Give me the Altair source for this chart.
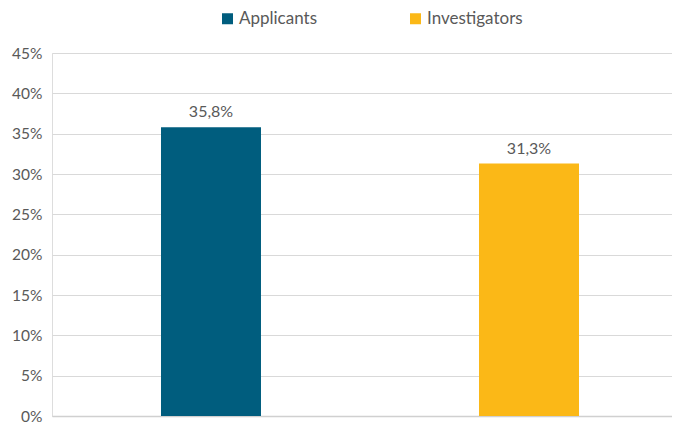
import altair as alt
import pandas as pd

categories = ["Applicants", "Investigators"]
values = [35.8, 31.3]
labels = ["35,8%", "31,3%"]
colors = ["#005D7E", "#FBB817"]
y_ticks = [0, 5, 10, 15, 20, 25, 30, 35, 40, 45]

df = pd.DataFrame({"group": categories, "value": values, "label": labels})

FONT = "Lato"
TXT = "#595959"

x_enc = alt.X(
    "group:N",
    sort=categories,
    title=None,
    scale=alt.Scale(paddingInner=0.2, paddingOuter=0.07484, align=0.668, round=False),
    axis=alt.Axis(labels=False, ticks=False, domain=True, domainColor="#d0d0d0", domainWidth=1.5, grid=False),
)
y_enc = alt.Y(
    "value:Q",
    title=None,
    scale=alt.Scale(domain=[0, 45], nice=False),
    axis=alt.Axis(
        values=y_ticks,
        labelExpr="datum.value + '%'",
        ticks=False,
        domain=False,
        grid=True,
        gridColor="#d9d9d9",
        gridWidth=1,
        labelPadding=10,
        labelColor=TXT,
        labelFont=FONT,
        labelFontSize=15.5,
    ),
)

bars = alt.Chart(df).mark_bar(size=100).encode(
    x=x_enc,
    y=y_enc,
    color=alt.Color(
        "group:N",
        sort=categories,
        scale=alt.Scale(domain=categories, range=colors),
        legend=alt.Legend(
            title=None,
            orient="none",
            legendX=167,
            legendY=-43,
            padding=0,
            direction="horizontal",
            symbolType="square",
            symbolSize=121,
            symbolStrokeWidth=0,
            labelFont=FONT,
            labelFontSize=17,
            labelColor=TXT,
            labelOffset=3,
            columnPadding=89,
        ),
    ),
)

text = alt.Chart(df).mark_text(
    dy=-10, baseline="alphabetic", font=FONT, fontSize=16, color=TXT
).encode(x=alt.X("group:N", sort=categories), y="value:Q", text="label:N")

chart = (
    alt.layer(bars, text)
    .properties(
        width=620,
        height=363,
        autosize=alt.AutoSizeParams(type="none"),
        padding={"left": 44, "top": 45, "right": 0, "bottom": 8},
    )
    .configure_view(stroke=None)
    .configure(background="white")
)

chart.save("out.html", embed_options={"renderer": "svg", "actions": False})
